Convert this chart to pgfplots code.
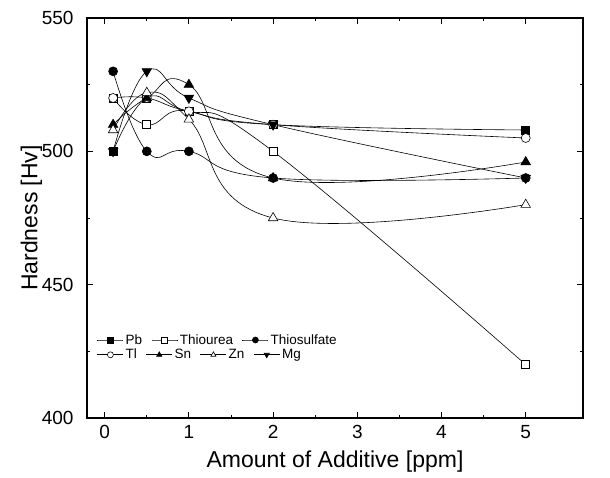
\documentclass[border=0pt]{standalone}
\usepackage{pgfplots}
\pgfplotsset{compat=1.18}
\usepackage{fontspec}
\setmainfont{Liberation Sans}

\pgfplotsset{
  base/.style={
    at={(0,0)}, anchor=south west,
    scale only axis, width=496pt, height=400pt,
    xmin=-0.21, xmax=5.68, ymin=400, ymax=550,
  },
  ser/.style={black, line width=0.6pt, smooth, tension=0.75, mark options={solid, line width=0.6pt}},
  myleg/.style={
    legend cell align=left,
    legend style={draw=none, fill=none, inner sep=0pt, font=\fontsize{13.5}{15}\selectfont,
      /tikz/every even column/.append style={column sep=7pt}},
    legend image code/.code={%
      \draw[mark repeat=2, mark phase=2, mark size=3pt] plot coordinates {(0pt,0pt) (13pt,0pt) (26pt,0pt)};},
  },
}

\begin{document}
\begin{tikzpicture}
\useasboundingbox (-87pt,-59pt) rectangle (523pt,418pt);
\begin{axis}[
  base,
  xtick={0,1,2,3,4,5}, ytick={400,450,500,550},
  minor x tick num=1, minor y tick num=1,
  major tick length=6pt, minor tick length=3.5pt,
  tick style={black, line width=0.8pt},
  axis line style={line width=1.1pt},
  /pgf/number format/assume math mode=true,
  tick label style={font=\fontsize{19}{21}\selectfont},
  xticklabel style={yshift=-4pt},
  yticklabel style={xshift=-10pt},
  xlabel={Amount of Additive [ppm]}, ylabel={Hardness [Hv]},
  label style={font=\fontsize{23}{27}\selectfont},
  xlabel style={at={(axis description cs:0.5,-0.11)}, anchor=center},
  ylabel style={at={(axis description cs:-0.112,0.5)}, anchor=center},
  myleg, legend columns=3,
  legend style={at={(0.02,0.195)}, anchor=west},
]
\addplot[ser, mark=square*, mark size=4pt, mark options={fill=black}]
  coordinates {(0.1,500) (0.5,520) (1,515) (2,510) (5,508)};
\addlegendentry{Pb}
\addplot[ser, mark=square*, mark size=4pt, mark options={fill=white}]
  coordinates {(0.1,520) (0.5,510) (1,515) (2,500) (5,420)};
\addlegendentry{Thiourea}
\addplot[ser, mark=*, mark size=4.5pt, mark options={fill=black}]
  coordinates {(0.1,530) (0.5,500) (1,500) (2,490) (5,490)};
\addlegendentry{Thiosulfate}
\addplot[ser, forget plot, mark=*, mark size=4.5pt, mark options={fill=white}]
  coordinates {(0.1,520) (0.5,520) (1,515) (2,510) (5,505)};
\addplot[ser, forget plot, mark=triangle*, mark size=5.5pt, mark options={fill=black}]
  coordinates {(0.1,510) (0.5,520) (1,525) (2,490) (5,496)};
\addplot[ser, forget plot, mark=triangle*, mark size=5.5pt, mark options={fill=white}]
  coordinates {(0.1,508) (0.5,522) (1,512) (2,475) (5,480)};
\addplot[ser, forget plot, mark=triangle*, mark size=5.5pt, mark options={fill=black, rotate=180}]
  coordinates {(0.1,500) (0.5,530) (1,520) (2,510) (5,490)};
\end{axis}
\begin{axis}[
  base, hide axis,
  myleg, legend columns=4,
  legend style={at={(0.02,0.158)}, anchor=west},
]
\addlegendimage{ser, mark=*, mark options={fill=white}}
\addlegendentry{Tl}
\addlegendimage{ser, mark=triangle*, mark options={fill=black}}
\addlegendentry{Sn}
\addlegendimage{ser, mark=triangle*, mark options={fill=white}}
\addlegendentry{Zn}
\addlegendimage{ser, mark=triangle*, mark options={fill=black, rotate=180}}
\addlegendentry{Mg}
\end{axis}
\end{tikzpicture}
\end{document}
